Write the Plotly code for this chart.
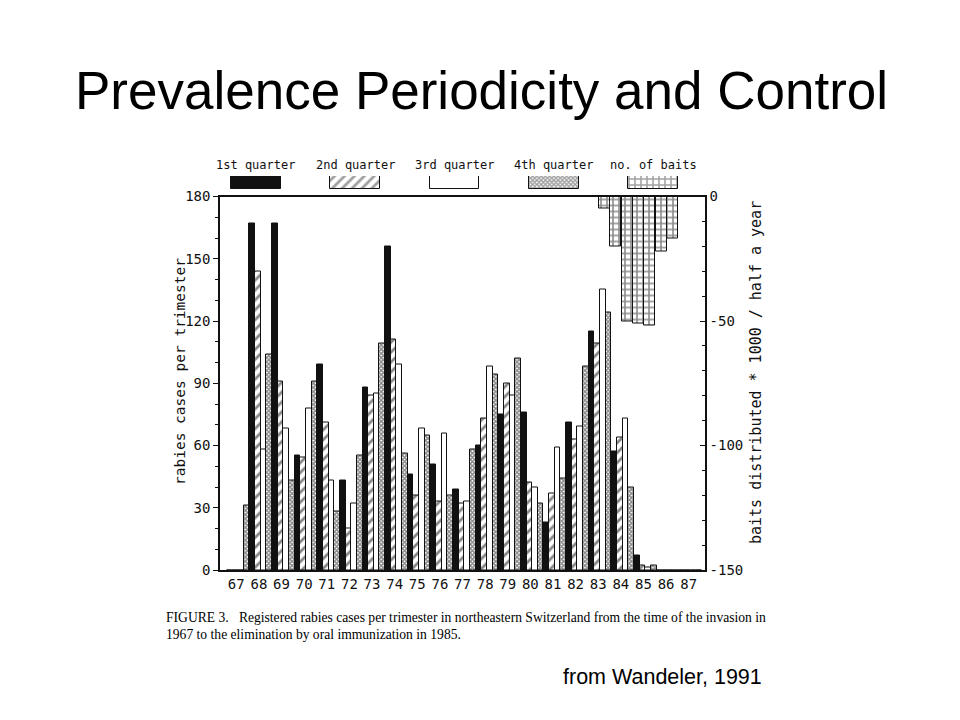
import plotly.graph_objects as go

# ---------------- data ----------------
years = list(range(1967, 1988))
year_labels = [str(y)[2:] for y in years]

q1_cases = [0, 167, 167, 55, 99, 43, 88, 156, 46, 51, 39, 60, 75, 76, 23, 71, 115, 57, 7, 0, 0]
q2_cases = [0, 144, 91, 54, 71, 20, 84, 111, 36, 33, 32, 73, 90, 42, 37, 63, 109, 64, 2, 0, 0]
q3_cases = [0, 58, 68, 78, 43, 32, 85, 99, 68, 66, 33, 98, 84, 40, 59, 69, 135, 73, 1, 0, 0]
q4_cases = [31, 104, 43, 91, 28, 55, 109, 56, 65, 36, 58, 94, 102, 32, 44, 98, 124, 40, 2, 0, 0]

bait_years = [1983, 1984, 1984, 1985, 1985, 1986, 1986]
bait_halves = [2, 1, 2, 1, 2, 1, 2]
bait_values = [-5, -20, -50, -51, -52, -22, -17]

legend_names = ["1st quarter", "2nd quarter", "3rd quarter", "4th quarter", "no. of baits"]

left_ticks = [0, 30, 60, 90, 120, 150, 180]
right_ticks = [-150, -100, -50, 0]

# ---------------- layout helpers ----------------
W, H = 960, 720
OFF = 8  # page body margin
ML, MR, MT, MB = 160, 160, 140, 150
PW, PH = W - ML - MR, H - MT - MB


def px_x(p):
    return (p - OFF - ML) / PW


def px_y(p):
    return (H - MB - (p - OFF)) / PH


MONO = "DejaVu Sans Mono"
INK = "#111111"

styles = [
    dict(color=INK, shape="", size=6, solidity=0.3),
    dict(color="white", shape="/", size=7, solidity=0.4),
    dict(color="white", shape="", size=6, solidity=0.3),
    dict(color="white", shape="x", size=3, solidity=0.7),
    dict(color="white", shape="+", size=6, solidity=0.45),
]

fig = go.Figure()

series = [q1_cases, q2_cases, q3_cases, q4_cases]
for qi, vals in enumerate(series):
    st = styles[qi]
    fig.add_trace(go.Bar(
        x=[y + (qi + 0.5) * 0.25 for y in years],
        y=vals,
        width=0.25,
        name=legend_names[qi],
        marker=dict(
            color=st["color"],
            line=dict(color=INK, width=1),
            pattern=dict(shape=st["shape"], fgcolor=INK, bgcolor=st["color"],
                         size=st["size"], solidity=st["solidity"]),
        ),
        xaxis="x", yaxis="y", showlegend=False,
    ))

st = styles[4]
fig.add_trace(go.Bar(
    x=[y + (h - 0.5) * 0.5 - 0.05 for y, h in zip(bait_years, bait_halves)],
    y=bait_values,
    width=0.49,
    name=legend_names[4],
    marker=dict(
        color="white",
        line=dict(color=INK, width=1),
        pattern=dict(shape=st["shape"], fgcolor=INK, bgcolor="white",
                     size=st["size"], solidity=st["solidity"]),
    ),
    xaxis="x", yaxis="y2", showlegend=False,
))

# legend swatches (custom legend row)
fig.add_trace(go.Bar(
    x=legend_names,
    y=[1] * len(legend_names),
    width=0.5,
    marker=dict(
        color=[s["color"] for s in styles],
        line=dict(color=INK, width=1),
        pattern=dict(shape=[s["shape"] for s in styles], fgcolor=INK,
                     bgcolor=[s["color"] for s in styles],
                     size=[s["size"] for s in styles],
                     solidity=[s["solidity"] for s in styles]),
    ),
    xaxis="x3", yaxis="y3", showlegend=False, hoverinfo="skip",
))

annotations = []
for name in legend_names:
    annotations.append(dict(
        x=name, xref="x3", y=px_y(165), yref="paper", text=name, showarrow=False,
        xanchor="center", yanchor="middle", font=dict(family=MONO, size=12, color=INK),
    ))

annotations += [
    dict(x=px_x(481), y=px_y(91), xref="paper", yref="paper",
         text="Prevalence Periodicity and Control", showarrow=False,
         xanchor="center", yanchor="middle",
         font=dict(family="Liberation Sans", size=53, color="black")),
    dict(x=px_x(180), y=px_y(372), xref="paper", yref="paper",
         text="rabies cases per trimester", showarrow=False, textangle=-90,
         xanchor="center", yanchor="middle",
         font=dict(family=MONO, size=14.5, color=INK)),
    dict(x=px_x(756), y=px_y(373), xref="paper", yref="paper",
         text="baits distributed * 1000 / half a year", showarrow=False, textangle=-90,
         xanchor="center", yanchor="middle",
         font=dict(family=MONO, size=15, color=INK)),
    dict(x=px_x(164), y=px_y(617), xref="paper", yref="paper",
         text="FIGURE 3.   Registered rabies cases per trimester in northeastern Switzerland from the time of the invasion in",
         showarrow=False, xanchor="left", yanchor="middle",
         font=dict(family="Liberation Serif", size=13.6, color="black")),
    dict(x=px_x(164), y=px_y(634), xref="paper", yref="paper",
         text="1967 to the elimination by oral immunization in 1985.",
         showarrow=False, xanchor="left", yanchor="middle",
         font=dict(family="Liberation Serif", size=13.6, color="black")),
    dict(x=px_x(764), y=px_y(677), xref="paper", yref="paper",
         text="from Wandeler, 1991", showarrow=False, xanchor="right", yanchor="middle",
         font=dict(family="Liberation Sans", size=21.5, color="black")),
]

fig.update_layout(
    width=W, height=H,
    margin=dict(l=ML, r=MR, t=MT, b=MB),
    paper_bgcolor="white", plot_bgcolor="white",
    barmode="overlay", bargap=0,
    showlegend=False,
    annotations=annotations,
    xaxis=dict(
        domain=[px_x(220), px_x(705)], range=[1966.7, 1988.14],
        tickvals=[y + 0.42 for y in years], ticktext=year_labels, ticks="",
        showline=True, mirror=True, linecolor=INK, linewidth=1.5,
        showgrid=False, zeroline=False, anchor="y",
        tickfont=dict(family=MONO, size=14, color=INK),
    ),
    yaxis=dict(
        domain=[px_y(570), px_y(196.5)], range=[0, 180],
        tickvals=left_ticks, ticks="outside", ticklen=5, tickcolor=INK,
        minor=dict(dtick=10, ticks="outside", ticklen=3, tickcolor=INK),
        showline=True, linecolor=INK, linewidth=1.5,
        showgrid=False, zeroline=False, anchor="x",
        tickfont=dict(family=MONO, size=14, color=INK),
    ),
    yaxis2=dict(
        overlaying="y", side="right", range=[-150, 0], anchor="x",
        tickvals=right_ticks, ticktext=[str(v) for v in right_ticks],
        ticks="inside", ticklen=5, tickcolor=INK,
        minor=dict(dtick=10, ticks="inside", ticklen=3, tickcolor=INK),
        showline=True, linecolor=INK, linewidth=1.5,
        showgrid=False, zeroline=False,
        tickfont=dict(family=MONO, size=14, color=INK),
    ),
    xaxis3=dict(
        domain=[px_x(206), px_x(703)], anchor="y3", type="category",
        range=[-0.5, 4.5], visible=False,
    ),
    yaxis3=dict(
        domain=[px_y(189), px_y(176)], anchor="x3", range=[0, 1], visible=False,
    ),
)

fig.write_html("out.html")
